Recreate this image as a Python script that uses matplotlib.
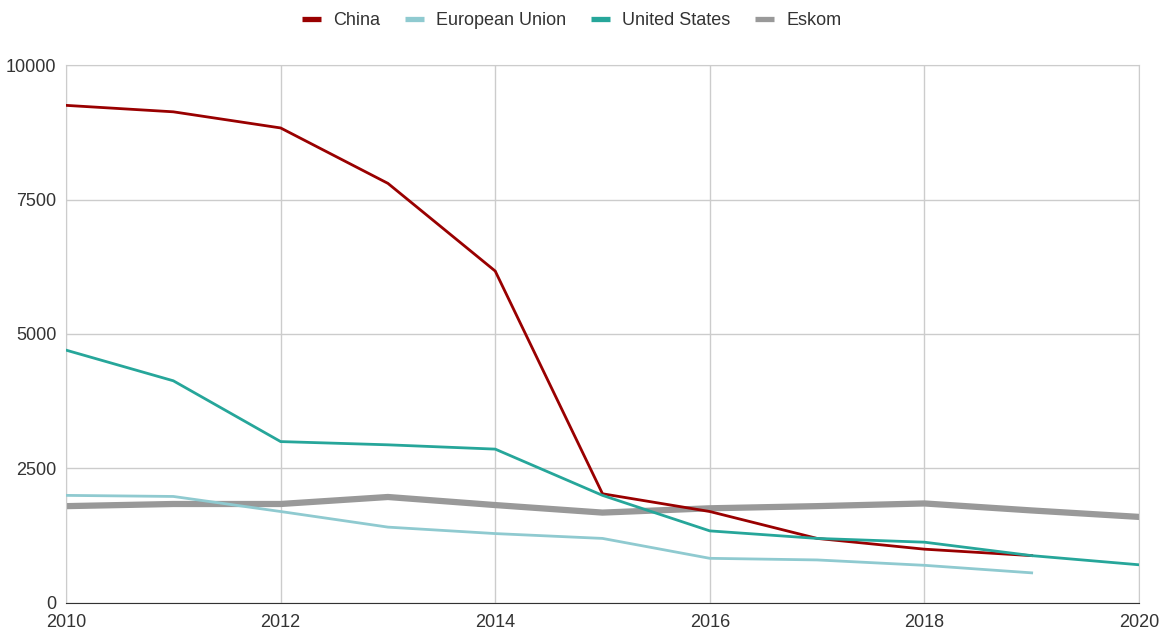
import matplotlib.pyplot as plt
from matplotlib.lines import Line2D

# Данные
years = [2010, 2011, 2012, 2013, 2014, 2015, 2016, 2017, 2018, 2019, 2020]
china = [9250, 9130, 8830, 7800, 6170, 2030, 1700, 1200, 1000, 880]
eu = [2000, 1980, 1700, 1410, 1290, 1200, 830, 800, 700, 560]
us = [4700, 4130, 3000, 2940, 2860, 2000, 1340, 1200, 1130, 880, 710]
eskom = [1800, 1840, 1840, 1970, 1820, 1680, 1760, 1800, 1850, 1720, 1600]

series = [
    ("China", china, "#990000", 2.0),
    ("European Union", eu, "#8fcad0", 2.0),
    ("United States", us, "#26a69a", 2.0),
    ("Eskom", eskom, "#999999", 4.5),
]

plt.rcParams.update({
    'font.family': ['Liberation Sans', 'DejaVu Sans'],
    'text.color': '#333333',
})

fig = plt.figure(figsize=(11.69, 6.30), dpi=100)
ax = fig.add_axes([0.0565, 0.0429, 0.9178, 0.8539])

for name, vals, color, lw in series:
    ax.plot(years[:len(vals)], vals, color=color, lw=lw, label=name,
            solid_joinstyle='miter', zorder=3 if name != "Eskom" else 2)

ax.set_xlim(2010, 2020)
ax.set_ylim(0, 10000)
ax.set_xticks(range(2010, 2021, 2))
ax.set_yticks(range(0, 10001, 2500))
ax.grid(True, color='#cccccc', lw=1)
ax.set_axisbelow(True)

for s in ["top", "right", "left"]:
    ax.spines[s].set_color('#cccccc')
ax.spines["bottom"].set_color('#333333')
ax.tick_params(length=0, labelsize=13, labelcolor='#333333')
ax.tick_params(axis='x', pad=8)
ax.tick_params(axis='y', pad=7)

handles = [Line2D([0], [0], color=c, lw=3.8, solid_capstyle='butt') for _, _, c, _ in series]
fig.legend(handles, [n for n, _, _, _ in series], loc='center', bbox_to_anchor=(0.489, 0.967),
           ncol=4, frameon=False, fontsize=13, handlelength=1.05, handletextpad=0.65,
           columnspacing=1.4)

fig.savefig("out.png", dpi=100)
